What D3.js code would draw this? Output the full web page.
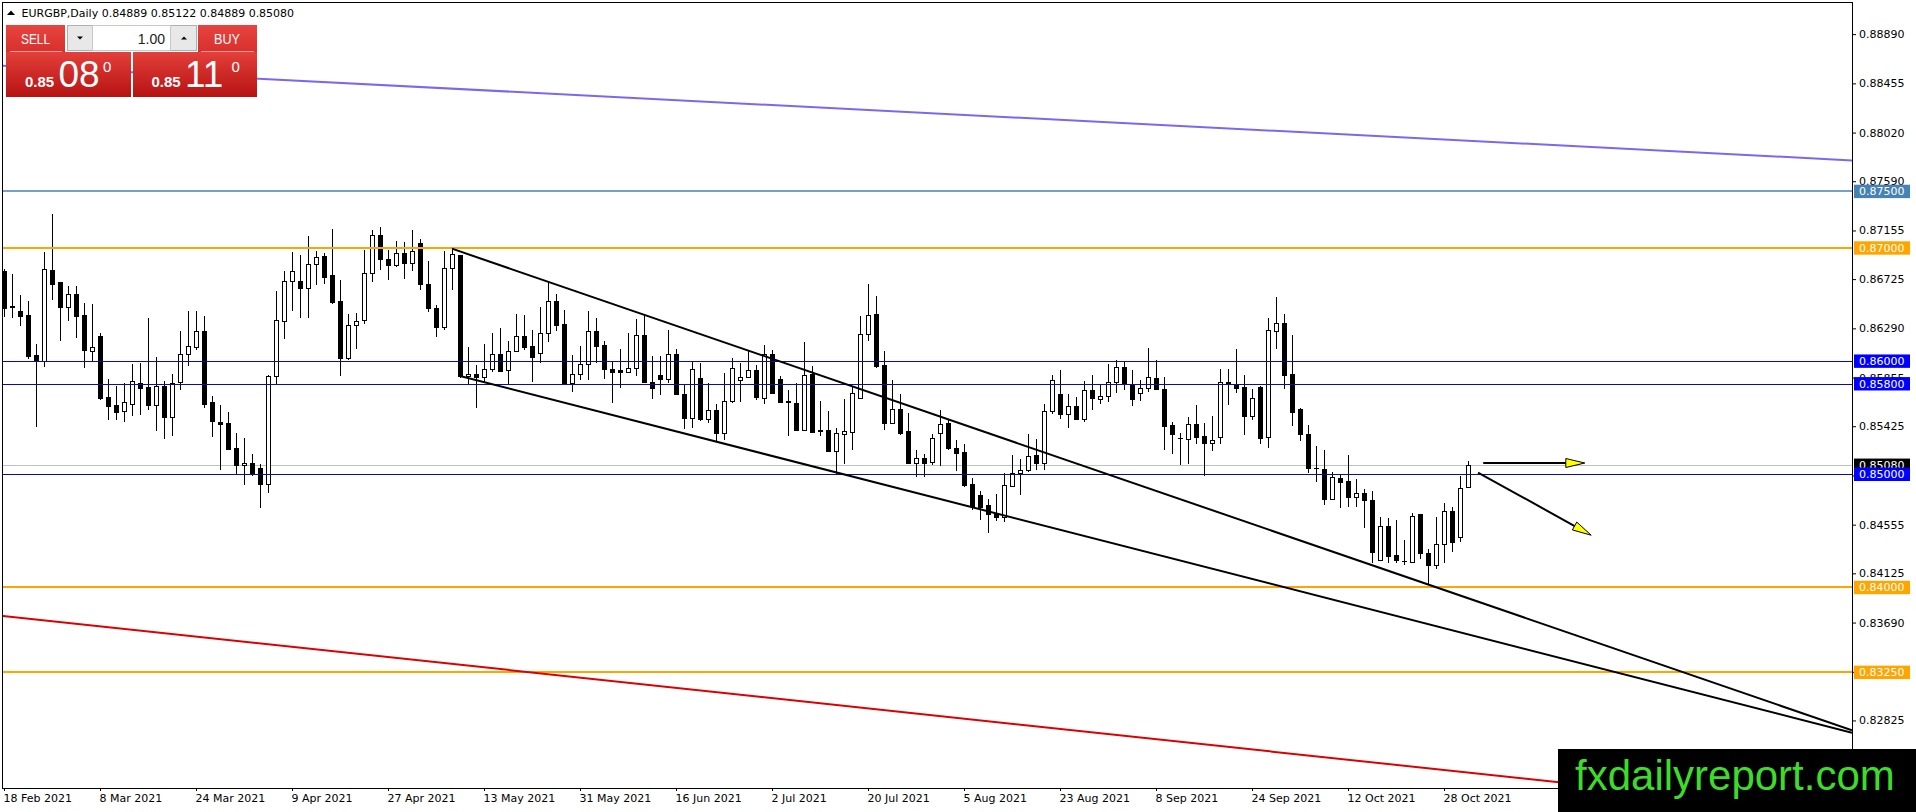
<!DOCTYPE html>
<html>
<head>
<meta charset="utf-8">
<script src="https://cdnjs.cloudflare.com/ajax/libs/d3/7.8.5/d3.min.js"></script>
<style>
body{margin:0;background:#fff;overflow:hidden}
svg{display:block}
</style>
</head>
<body>
<div class="chart"></div>
<script>
// EURGBP daily candles, 18 Feb 2021 .. 2 Nov 2021
const opens=[0.86793,0.86490,0.86440,0.86405,0.86057,0.85999,0.86802,0.86696,0.86478,0.86596,
	0.86405,0.86093,0.86219,0.85681,0.85610,0.85560,0.85625,0.85810,0.85769,0.85616,
	0.85778,0.85507,0.85816,0.86066,0.86125,0.86264,0.85636,0.85463,0.85454,0.85230,
	0.85086,0.85104,0.85054,0.84918,0.85872,0.86355,0.86705,0.86705,0.86646,0.86861,
	0.86926,0.86758,0.86528,0.86031,0.86317,0.86367,0.86782,0.87111,0.86905,0.86852,
	0.86958,0.86870,0.87047,0.86685,0.86473,0.86302,0.86826,0.86935,0.85866,0.85884,
	0.85860,0.85934,0.86066,0.85925,0.86090,0.86219,0.86131,0.86072,0.86252,0.86529,
	0.86325,0.85807,0.85890,0.85978,0.86264,0.86140,0.85934,0.85925,0.85904,0.85942,
	0.86234,0.85816,0.85875,0.85845,0.86066,0.85713,0.85498,0.85854,0.85489,0.85572,
	0.85366,0.85648,0.85837,0.85860,0.85925,0.85678,0.86066,0.85846,0.85645,0.85634,
	0.85395,0.85890,0.85392,0.85389,0.85207,0.85360,0.85375,0.85678,0.86243,0.86414,
	0.85963,0.85454,0.85575,0.85380,0.85101,0.85148,0.85110,0.85366,0.85454,0.85236,
	0.85198,0.84912,0.84815,0.84727,0.84659,0.84624,0.84898,0.85015,0.85036,0.85174,
	0.85101,0.85560,0.85713,0.85537,0.85601,0.85492,0.85748,0.85669,0.85695,0.85816,
	0.85949,0.85801,0.85719,0.85766,0.85854,0.85757,0.85433,0.85324,0.85316,0.85448,
	0.85336,0.85277,0.85330,0.85816,0.85787,0.85772,0.85516,0.85772,0.85330,0.86267,
	0.86337,0.85884,0.85581,0.85360,0.85060,0.85045,0.84780,0.84968,0.84942,0.84800,
	0.84839,0.84777,0.84241,0.84541,0.84285,0.84238,0.84226,0.84647,0.84309,0.84197,
	0.84388,0.84674,0.84447,0.84889]
const highs=[0.86817,0.86767,0.86587,0.86528,0.86149,0.86964,0.87297,0.86700,0.86661,0.86661,
	0.86517,0.86502,0.86249,0.85846,0.85778,0.85807,0.85972,0.85981,0.86381,0.86037,
	0.85828,0.85890,0.86264,0.86440,0.86440,0.86396,0.85692,0.85610,0.85548,0.85366,
	0.85321,0.85183,0.85095,0.85878,0.86617,0.86793,0.86964,0.86935,0.87105,0.86970,
	0.86955,0.87170,0.86714,0.86420,0.86429,0.86985,0.87161,0.87185,0.86985,0.87058,
	0.87052,0.87156,0.87082,0.86882,0.86499,0.86970,0.86994,0.86941,0.86125,0.85963,
	0.86154,0.86252,0.86296,0.86175,0.86420,0.86411,0.86278,0.86479,0.86699,0.86596,
	0.86449,0.86052,0.86131,0.86440,0.86381,0.86175,0.85999,0.86110,0.86252,0.86369,
	0.86405,0.86043,0.86043,0.86272,0.86110,0.85787,0.85993,0.85987,0.85810,0.85625,
	0.85895,0.86028,0.85984,0.86096,0.85962,0.86140,0.86096,0.85866,0.85748,0.85810,
	0.86169,0.85954,0.85645,0.85557,0.85413,0.85663,0.85778,0.86396,0.86679,0.86573,
	0.86087,0.85831,0.85713,0.85545,0.85213,0.85183,0.85354,0.85566,0.85478,0.85301,
	0.85266,0.84971,0.84851,0.84786,0.84824,0.85015,0.85168,0.85133,0.85354,0.85316,
	0.85625,0.85875,0.85919,0.85707,0.85684,0.85822,0.85875,0.85801,0.85972,0.86007,
	0.85993,0.85925,0.85837,0.86119,0.86008,0.85860,0.85463,0.85366,0.85507,0.85610,
	0.85457,0.85513,0.85928,0.85934,0.86111,0.85881,0.85751,0.85778,0.86384,0.86567,
	0.86420,0.86228,0.85587,0.85433,0.85248,0.85213,0.85021,0.85007,0.85169,0.84962,
	0.84874,0.84854,0.84624,0.84618,0.84594,0.84418,0.84662,0.84647,0.84344,0.84624,
	0.84748,0.84712,0.84983,0.85122]
const lows=[0.86390,0.86384,0.86311,0.86022,0.85419,0.85949,0.86543,0.86178,0.86355,0.86208,
	0.85940,0.85999,0.85654,0.85478,0.85478,0.85463,0.85513,0.85522,0.85566,0.85383,
	0.85313,0.85339,0.85742,0.85957,0.86096,0.85589,0.85330,0.85042,0.85212,0.85001,
	0.84903,0.84983,0.84706,0.84836,0.85795,0.86193,0.86440,0.86384,0.86381,0.86676,
	0.86685,0.86508,0.85869,0.86008,0.86105,0.86331,0.86699,0.86802,0.86714,0.86832,
	0.86729,0.86796,0.86631,0.86434,0.86214,0.86273,0.86631,0.85854,0.85801,0.85589,
	0.85816,0.85904,0.85904,0.85801,0.86081,0.86096,0.85816,0.85984,0.86169,0.86267,
	0.85792,0.85728,0.85831,0.85831,0.85984,0.85839,0.85631,0.85763,0.85904,0.85866,
	0.85810,0.85663,0.85698,0.85807,0.85707,0.85404,0.85410,0.85469,0.85454,0.85292,
	0.85307,0.85634,0.85640,0.85860,0.85660,0.85619,0.85713,0.85631,0.85336,0.85389,
	0.85389,0.85369,0.85336,0.85204,0.85007,0.85095,0.85213,0.85669,0.86178,0.85940,
	0.85395,0.85454,0.85345,0.85095,0.84977,0.84977,0.85080,0.85072,0.85213,0.85030,
	0.84889,0.84689,0.84594,0.84483,0.84589,0.84580,0.84889,0.84815,0.85021,0.85036,
	0.85042,0.85537,0.85492,0.85413,0.85483,0.85463,0.85566,0.85619,0.85640,0.85719,
	0.85748,0.85601,0.85648,0.85728,0.85743,0.85213,0.85183,0.85080,0.85089,0.85272,
	0.84986,0.85207,0.85266,0.85610,0.85719,0.85345,0.85478,0.85266,0.85236,0.86105,
	0.85751,0.85428,0.85292,0.85015,0.84933,0.84733,0.84771,0.84703,0.84712,0.84712,
	0.84527,0.84218,0.84235,0.84218,0.84212,0.84197,0.84212,0.84256,0.84035,0.84159,
	0.84212,0.84315,0.84403,0.84889]
const closes=[0.86473,0.86480,0.86399,0.86046,0.85999,0.86811,0.86685,0.86478,0.86596,0.86399,
	0.86096,0.86122,0.85675,0.85604,0.85551,0.85636,0.85828,0.85763,0.85616,0.85778,
	0.85507,0.85807,0.86066,0.86131,0.86264,0.85625,0.85472,0.85448,0.85227,0.85080,
	0.85104,0.85012,0.84918,0.85872,0.86367,0.86705,0.86793,0.86646,0.86861,0.86920,
	0.86743,0.86523,0.86031,0.86317,0.86355,0.86782,0.87111,0.86905,0.86852,0.86958,
	0.86870,0.86970,0.86685,0.86470,0.86302,0.86826,0.86949,0.85869,0.85884,0.85860,
	0.85934,0.86066,0.85913,0.86090,0.86225,0.86125,0.86037,0.86252,0.86529,0.86317,
	0.85801,0.85890,0.85978,0.86264,0.86134,0.85928,0.85904,0.85904,0.85942,0.86234,
	0.85816,0.85763,0.85845,0.86066,0.85713,0.85498,0.85934,0.85489,0.85566,0.85366,
	0.85648,0.85942,0.85860,0.85925,0.85684,0.86061,0.85719,0.85640,0.85640,0.85389,
	0.85875,0.85374,0.85386,0.85207,0.85366,0.85381,0.85722,0.86243,0.86405,0.85954,
	0.85454,0.85581,0.85369,0.85101,0.85148,0.85101,0.85324,0.85448,0.85233,0.85189,
	0.84904,0.84718,0.84712,0.84653,0.84624,0.84904,0.85015,0.85036,0.85163,0.85101,
	0.85560,0.85837,0.85537,0.85601,0.85486,0.85748,0.85675,0.85695,0.85816,0.85949,
	0.85807,0.85669,0.85766,0.85860,0.85757,0.85428,0.85360,0.85319,0.85448,0.85330,
	0.85277,0.85307,0.85816,0.85795,0.85766,0.85516,0.85678,0.85322,0.86272,0.86337,
	0.85881,0.85551,0.85354,0.85057,0.85054,0.84780,0.84977,0.84933,0.84800,0.84839,
	0.84777,0.84315,0.84541,0.84280,0.84247,0.84232,0.84630,0.84306,0.84197,0.84388,
	0.84674,0.84403,0.84883,0.85080]

const dateLabels=['18 Feb 2021','8 Mar 2021','24 Mar 2021','9 Apr 2021','27 Apr 2021','13 May 2021',
	'31 May 2021','16 Jun 2021','2 Jul 2021','20 Jul 2021','5 Aug 2021','23 Aug 2021',
	'8 Sep 2021','24 Sep 2021','12 Oct 2021','28 Oct 2021']
const dateLabelStep=12
const priceTicks=[0.88890,0.88455,0.88020,0.87590,0.87155,0.86725,0.86290,0.85855,0.85425,
	0.84990,0.84555,0.84125,0.83690,0.83255,0.82825]

// horizontal levels drawn on the chart
const steelLevels=[0.875]
const orangeLevels=[0.87,0.84,0.8325]
const blueLevels=[0.86,0.858,0.85]
const bidPrice=0.85080

// trend lines as two (bar index, price) anchors
const channelTop=[[56,0.86994],[178,0.84027]]
const channelBottom=[[57,0.85869],[125,0.84637]]
const slateLine=[[0,0.88611],[231,0.87774]]
const redLine=[[0,0.83748],[187,0.82334]]
const arrowFlat=[[184.9,0.85100],[197.6,0.85100]]
const arrowDown=[[184.25,0.85016],[198.4,0.84462]]

const symbolTitle='EURGBP,Daily'
const sellPrice=['0.85','08','0']
const buyPrice=['0.85','11','0']
const lotSize='1.00'

// ---- layout
const width=1916, height=812
const plot={left:3,top:3,right:1852,bottom:788}
const visibleSlots=231
const priceMin=0.82228, priceMax=0.89165
const font='"DejaVu Sans",sans-serif'

const xScale=d3.scaleLinear()
	.domain([0,visibleSlots])
	.range([plot.left+1,plot.right])
const yScale=d3.scaleLinear()
	.domain([priceMin,priceMax])
	.range([plot.bottom,plot.top])

const svg=d3.select('.chart').append('svg')
	.attr('width',width)
	.attr('height',height)

const defs=svg.append('defs')
defs.append('clipPath').attr('id','plotClip')
	.append('rect')
	.attr('x',plot.left).attr('y',plot.top)
	.attr('width',plot.right-plot.left).attr('height',plot.bottom-plot.top)

function gradient(id,top,bottom){
	const g=defs.append('linearGradient').attr('id',id)
		.attr('x1',0).attr('y1',0).attr('x2',0).attr('y2',1)
	g.append('stop').attr('offset','0%').attr('stop-color',top)
	g.append('stop').attr('offset','100%').attr('stop-color',bottom)
}
gradient('redTop','#e8443f','#d8302d')
gradient('redBox','#e3403b','#b51212')

svg.append('rect').attr('width',width).attr('height',height).attr('fill','#fff')

const plotG=svg.append('g').attr('clip-path','url(#plotClip)')

// bid line
plotG.append('line')
	.attr('x1',plot.left).attr('x2',plot.right)
	.attr('y1',Math.round(yScale(bidPrice))+0.5).attr('y2',Math.round(yScale(bidPrice))+0.5)
	.attr('stroke','#c0c0c0')

// candles
const bars=opens.map((o,i)=>({i:i,o:o,h:highs[i],l:lows[i],c:closes[i]}))

plotG.selectAll('.wick')
	.data(bars)
	.enter()
	.append('line')
	.attr('class','wick')
	.attr('x1',d=>Math.round(xScale(d.i))+0.5)
	.attr('x2',d=>Math.round(xScale(d.i))+0.5)
	.attr('y1',d=>yScale(d.h))
	.attr('y2',d=>yScale(d.l))
	.attr('stroke','#000')
	.attr('shape-rendering','crispEdges')

plotG.selectAll('.body')
	.data(bars)
	.enter()
	.append('rect')
	.attr('class','body')
	.attr('x',d=>Math.round(xScale(d.i))-1.5)
	.attr('y',d=>Math.round(yScale(Math.max(d.o,d.c)))+0.5)
	.attr('width',4)
	.attr('height',d=>Math.max(0.01,Math.round(yScale(Math.min(d.o,d.c)))-Math.round(yScale(Math.max(d.o,d.c)))))
	.attr('fill',d=>d.c>=d.o?'#fff':'#000')
	.attr('stroke','#000')

// levels
function level(p,color,w){
	const y=w%2===1?Math.round(yScale(p))+0.5:Math.round(yScale(p))
	plotG.append('line')
		.attr('x1',plot.left).attr('x2',plot.right)
		.attr('y1',y).attr('y2',y)
		.attr('stroke',color)
		.attr('stroke-width',w)
}
steelLevels.forEach(p=>level(p,'#4682b4',1.5))
orangeLevels.forEach(p=>level(p,'#ffa500',2))
blueLevels.forEach(p=>level(p,'#0a0ab4',1))

// trend lines
function priceAt(line,i){
	const a=line[0], b=line[1]
	return a[1]+(b[1]-a[1])*(i-a[0])/(b[0]-a[0])
}
function trend(line,fromI,toI,color,w){
	plotG.append('line')
		.attr('x1',xScale(fromI)).attr('y1',yScale(priceAt(line,fromI)))
		.attr('x2',xScale(toI)).attr('y2',yScale(priceAt(line,toI)))
		.attr('stroke',color)
		.attr('stroke-width',w)
}
trend(slateLine,-1,visibleSlots,'#7b68ee',2)
trend(redLine,-1,visibleSlots,'#dd0000',2)
trend(channelTop,channelTop[0][0],visibleSlots,'#000',2)
trend(channelBottom,channelBottom[0][0],visibleSlots,'#000',2)

function arrow(a){
	const x1=xScale(a[0][0]), y1=yScale(a[0][1]), x2=xScale(a[1][0]), y2=yScale(a[1][1])
	const len=Math.hypot(x2-x1,y2-y1), ux=(x2-x1)/len, uy=(y2-y1)/len
	const bx=x2-ux*19, by=y2-uy*19
	plotG.append('line')
		.attr('x1',x1).attr('y1',y1).attr('x2',x2-ux*4).attr('y2',y2-uy*4)
		.attr('stroke','#000').attr('stroke-width',2)
	plotG.append('polygon')
		.attr('points',[[x2,y2],[bx-uy*4.5,by+ux*4.5],[bx+uy*4.5,by-ux*4.5]].map(p=>p.join(',')).join(' '))
		.attr('fill','#ffff00')
		.attr('stroke','#000')
}
arrow(arrowFlat)
arrow(arrowDown)

// frame
svg.append('rect')
	.attr('x',plot.left-0.5).attr('y',plot.top-0.5)
	.attr('width',plot.right-plot.left+1).attr('height',plot.bottom-plot.top+1)
	.attr('fill','none').attr('stroke','#000')

// price axis
const yAxis=d3.axisRight()
	.scale(yScale)
	.tickValues(priceTicks)
	.tickFormat(d3.format('.5f'))
	.tickSize(4)
	.tickSizeOuter(0)
	.tickPadding(3)
const yAxisG=svg.append('g')
	.attr('transform',`translate(${plot.right},0)`)
	.call(yAxis)
yAxisG.select('.domain').remove()
yAxisG.selectAll('text').attr('font-family',font).attr('font-size',11).attr('fill','#000')

// date axis
const xAxis=d3.axisBottom()
	.scale(xScale)
	.tickValues(dateLabels.map((d,k)=>k*dateLabelStep))
	.tickFormat((d,k)=>dateLabels[k])
	.tickSize(3)
	.tickSizeOuter(0)
	.tickPadding(3)
const xAxisG=svg.append('g')
	.attr('transform',`translate(0,${plot.bottom})`)
	.call(xAxis)
xAxisG.select('.domain').remove()
xAxisG.selectAll('text')
	.attr('font-family',font).attr('font-size',11).attr('fill','#000')
	.style('text-anchor','start')
	.attr('dx',-1)

// price boxes on the axis
function priceBox(p,color){
	const y=yScale(p)
	svg.append('rect')
		.attr('x',plot.right+2).attr('y',y-6.7)
		.attr('width',56).attr('height',13.4)
		.attr('fill',color)
	svg.append('text')
		.attr('x',plot.right+7).attr('y',y+4)
		.attr('font-family',font).attr('font-size',11)
		.attr('fill','#fff')
		.text(d3.format('.5f')(p))
}
priceBox(bidPrice,'#000')
steelLevels.forEach(p=>priceBox(p,'#4682b4'))
orangeLevels.forEach(p=>priceBox(p,'#ffa500'))
blueLevels.forEach(p=>priceBox(p,'#0000ff'))

// title
svg.append('polygon').attr('points','7,15 15,15 11,10.5').attr('fill','#000')
svg.append('text')
	.attr('x',21.5).attr('y',16.5)
	.attr('font-family',font).attr('font-size',11).attr('fill','#000')
	.text(symbolTitle+' '+[opens[183],highs[183],lows[183],closes[183]].map(d3.format('.5f')).join(' '))

// one click trading panel
const panel=svg.append('g')
const panelFont='"Liberation Sans",Arial,sans-serif'
panel.append('rect').attr('x',6).attr('y',25).attr('width',59).attr('height',27).attr('fill','url(#redTop)')
panel.append('rect').attr('x',198).attr('y',25).attr('width',59).attr('height',27).attr('fill','url(#redTop)')
panel.append('rect').attr('x',6).attr('y',52).attr('width',125).attr('height',45).attr('fill','url(#redBox)')
panel.append('rect').attr('x',133).attr('y',52).attr('width',124).attr('height',45).attr('fill','url(#redBox)')
panel.append('line').attr('x1',10).attr('x2',62).attr('y1',51.5).attr('y2',51.5).attr('stroke','#f19a98')
panel.append('line').attr('x1',201).attr('x2',254).attr('y1',51.5).attr('y2',51.5).attr('stroke','#f19a98')

panel.append('text').attr('x',35.5).attr('y',44).attr('text-anchor','middle')
	.attr('font-family',panelFont).attr('font-size',15).attr('fill','#fff')
	.attr('textLength',29).attr('lengthAdjust','spacingAndGlyphs').text('SELL')
panel.append('text').attr('x',227).attr('y',44).attr('text-anchor','middle')
	.attr('font-family',panelFont).attr('font-size',15).attr('fill','#fff')
	.attr('textLength',26).attr('lengthAdjust','spacingAndGlyphs').text('BUY')

panel.append('rect').attr('x',67.5).attr('y',25.5).attr('width',129).attr('height',25)
	.attr('fill','#e8e8e8').attr('stroke','#b0b0b0')
panel.append('rect').attr('x',92.5).attr('y',25.5).attr('width',78).attr('height',25)
	.attr('fill','#fff').attr('stroke','#c8c8c8')
panel.append('polygon').attr('points','77,36.5 83,36.5 80,39.5').attr('fill','#000')
panel.append('polygon').attr('points','181,39.5 187,39.5 184,36.5').attr('fill','#000')
panel.append('text').attr('x',165).attr('y',43.5).attr('text-anchor','end')
	.attr('font-family',panelFont).attr('font-size',14).attr('fill','#222').text(lotSize)

function quote(q,x0,x1,x2){
	panel.append('text').attr('x',x0).attr('y',87)
		.attr('font-family',panelFont).attr('font-size',15).attr('font-weight','bold')
		.attr('fill','#fff').text(q[0])
	panel.append('text').attr('x',x1).attr('y',87)
		.attr('font-family',panelFont).attr('font-size',37)
		.attr('fill','#fff').text(q[1])
	panel.append('text').attr('x',x2).attr('y',71.5)
		.attr('font-family',panelFont).attr('font-size',15)
		.attr('fill','#fff').text(q[2])
}
quote(sellPrice,25,58.5,103)
quote(buyPrice,151.5,185,231.5)

// watermark
svg.append('rect').attr('x',1558).attr('y',749).attr('width',width-1558).attr('height',height-749).attr('fill','#000')
svg.append('text')
	.attr('x',1575).attr('y',790)
	.attr('font-family',panelFont).attr('font-size',42)
	.attr('fill','#3ddc2a')
	.text('fxdailyreport.com')
</script>
</body>
</html>
